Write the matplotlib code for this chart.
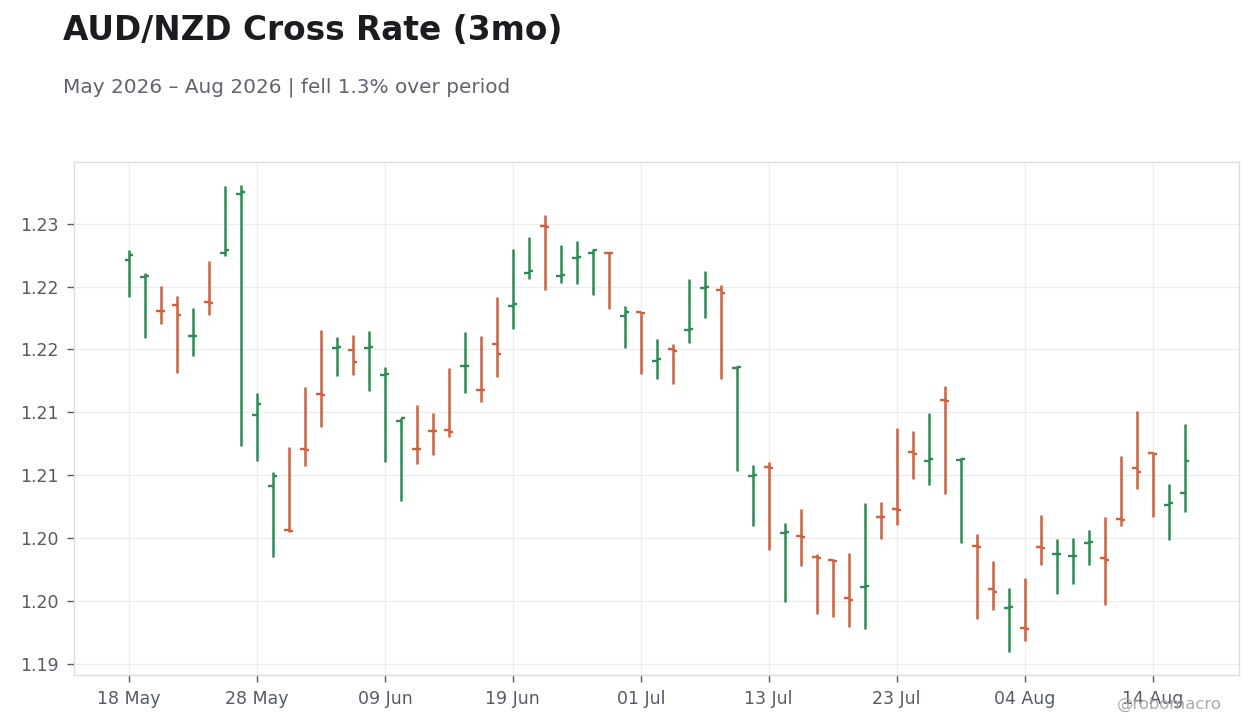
import matplotlib
matplotlib.use("Agg")
import matplotlib.pyplot as plt
import numpy as np
import pandas as pd

# ---- data ----
start_date = "2026-05-18"
opens = [1.22212, 1.22077, 1.21809, 1.21854, 1.21606, 1.21876, 1.22267, 1.22735, 1.20979, 1.20418,
         1.20068, 1.20709, 1.21145, 1.21513, 1.21497, 1.21510, 1.21296, 1.20934, 1.20711, 1.20852,
         1.20862, 1.21365, 1.21180, 1.21545, 1.21846, 1.22106, 1.22481, 1.22087, 1.22225, 1.22267,
         1.22270, 1.21763, 1.21794, 1.21410, 1.21500, 1.21653, 1.21987, 1.21974, 1.21352, 1.20494,
         1.20569, 1.20045, 1.20021, 1.19854, 1.19828, 1.19526, 1.19613, 1.20172, 1.20235, 1.20688,
         1.20614, 1.21100, 1.20621, 1.19941, 1.19597, 1.19449, 1.19291, 1.19931, 1.19874, 1.19859,
         1.19963, 1.19844, 1.20156, 1.20561, 1.20680, 1.20267, 1.20362]
highs = [1.22288, 1.22106, 1.22005, 1.21923, 1.21828, 1.22201, 1.22796, 1.22804, 1.21153, 1.20526,
         1.20725, 1.21201, 1.21653, 1.21598, 1.21614, 1.21645, 1.21360, 1.20955, 1.21058, 1.20994,
         1.21352, 1.21637, 1.21606, 1.21915, 1.22296, 1.22392, 1.22566, 1.22328, 1.22360, 1.22296,
         1.22270, 1.21848, 1.21794, 1.21582, 1.21542, 1.22058, 1.22122, 1.22011, 1.21368, 1.20582,
         1.20606, 1.20121, 1.20232, 1.19873, 1.19833, 1.19883, 1.20280, 1.20288, 1.20875, 1.20852,
         1.20995, 1.21209, 1.20635, 1.20034, 1.19820, 1.19605, 1.19685, 1.20185, 1.19994, 1.20002,
         1.20066, 1.20169, 1.20653, 1.21010, 1.20682, 1.20431, 1.20907]
lows = [1.21918, 1.21592, 1.21704, 1.21315, 1.21450, 1.21775, 1.22243, 1.20735, 1.20616, 1.19854,
        1.20050, 1.20576, 1.20886, 1.21291, 1.21299, 1.21172, 1.20608, 1.20299, 1.20592, 1.20664,
        1.20807, 1.21156, 1.21084, 1.21283, 1.21664, 1.22061, 1.21973, 1.22029, 1.22021, 1.21934,
        1.21823, 1.21509, 1.21307, 1.21267, 1.21227, 1.21553, 1.21751, 1.21267, 1.20537, 1.20100,
        1.19910, 1.19497, 1.19783, 1.19402, 1.19378, 1.19298, 1.19283, 1.19997, 1.20108, 1.20473,
        1.20426, 1.20354, 1.19965, 1.19362, 1.19433, 1.19100, 1.19187, 1.19791, 1.19560, 1.19640,
        1.19791, 1.19473, 1.20100, 1.20394, 1.20172, 1.19989, 1.20211]
closes = [1.22251, 1.22085, 1.21804, 1.21775, 1.21611, 1.21870, 1.22291, 1.22751, 1.21069, 1.20497,
          1.20058, 1.20703, 1.21137, 1.21518, 1.21402, 1.21516, 1.21307, 1.20952, 1.20709, 1.20849,
          1.20846, 1.21370, 1.21177, 1.21465, 1.21862, 1.22124, 1.22471, 1.22093, 1.22233, 1.22291,
          1.22265, 1.21795, 1.21788, 1.21421, 1.21489, 1.21664, 1.21997, 1.21950, 1.21360, 1.20500,
          1.20561, 1.20053, 1.20013, 1.19844, 1.19820, 1.19510, 1.19624, 1.20169, 1.20227, 1.20672,
          1.20629, 1.21092, 1.20629, 1.19934, 1.19576, 1.19457, 1.19280, 1.19923, 1.19878, 1.19862,
          1.19971, 1.19828, 1.20148, 1.20529, 1.20672, 1.20283, 1.20616]
ytick_values = [1.19, 1.195, 1.20, 1.205, 1.21, 1.215, 1.22, 1.225]
ytick_labels = ["1.19", "1.20", "1.20", "1.21", "1.21", "1.22", "1.22", "1.23"]
title = "AUD/NZD Cross Rate (3mo)"
subtitle = "May 2026 \u2013 Aug 2026 | fell 1.3% over period"
watermark = "@robomacro"

UP = "#2e8a55"
DOWN = "#cc6140"

n = len(opens)
dates = pd.bdate_range(start_date, periods=n)
x = np.arange(n)
o = np.array(opens); h = np.array(highs); l = np.array(lows); c = np.array(closes)
cols = [UP if cc >= oo else DOWN for oo, cc in zip(o, c)]

fig = plt.figure(figsize=(12.6, 7.28), dpi=100)
ax = fig.add_axes([0.0587, 0.0728, 0.9246, 0.7047])

tick_len = 0.28
ax.vlines(x, l, h, colors=cols, linewidth=1.8, zorder=3)
ax.hlines(o, x - tick_len, x, colors=cols, linewidth=1.7, zorder=3)
ax.hlines(c, x, x + tick_len, colors=cols, linewidth=1.7, zorder=3)

ax.set_xlim(-3.44, 69.4)
rng = h.max() - l.min()
ax.set_ylim(l.min() - 0.05 * rng, h.max() + 0.05 * rng)

xt = x[::8]
ax.set_xticks(xt)
ax.set_xticklabels([dates[i].strftime("%d %b") for i in xt])
ax.set_yticks(ytick_values)
ax.set_yticklabels(ytick_labels)

ax.grid(True, color="#ececec", linewidth=0.8, zorder=0)
ax.set_axisbelow(True)
for s in ax.spines.values():
    s.set_color("#dcdcdc")
    s.set_linewidth(1.0)
ax.tick_params(axis="both", colors="#555a66", labelsize=12.5, length=5, width=1, pad=6)

fig.text(0.05, 0.945, title, fontsize=23.6, fontweight="bold", color="#1b1b20", va="baseline", ha="left")
fig.text(0.05, 0.8736, subtitle, fontsize=14.4, color="#5f6270", va="baseline", ha="left")
fig.text(0.97, 0.0265, watermark, fontsize=11.8, color="#aaaaaa", va="baseline", ha="right")

fig.savefig("out.png", dpi=100)
